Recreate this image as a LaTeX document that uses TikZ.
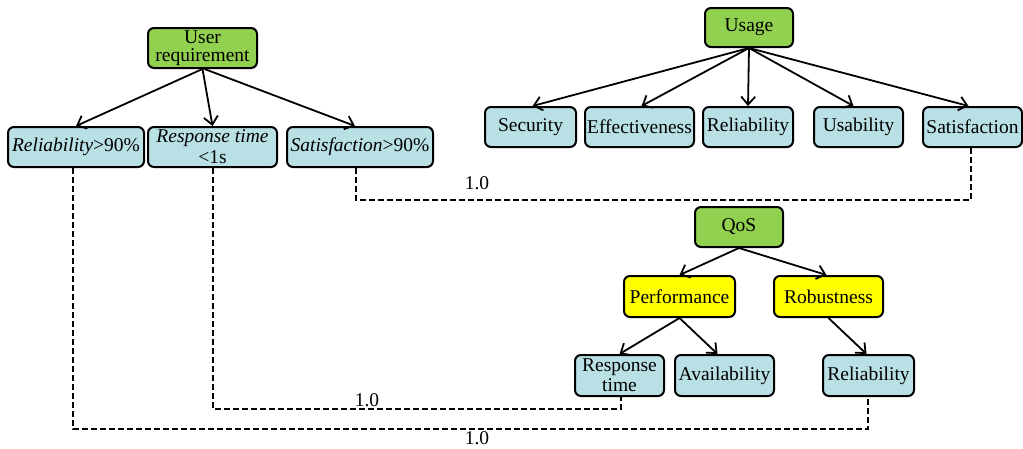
\documentclass[tikz,border=0pt]{standalone}
\usepackage{fontspec}
\setmainfont{Liberation Serif}
\usetikzlibrary{arrows.meta,calc}
\definecolor{boxgreen}{RGB}{146,208,80}
\definecolor{boxblue}{RGB}{185,224,229}
\definecolor{boxyellow}{RGB}{255,255,0}
\begin{document}
\begin{tikzpicture}[x=1pt,y=-1pt,
  box/.style={draw=black, line width=2pt, rounded corners=6pt, inner sep=0pt,
    minimum height=40pt, align=center, font=\fontsize{19.5}{18}\selectfont},
  gbox/.style={box, fill=boxgreen},
  bbox/.style={box, fill=boxblue},
  ybox/.style={box, fill=boxyellow},
  arr/.style={-{Straight Barb[length=8pt,width=14pt,line width=1.8pt]}, line width=1.8pt},
  dsh/.style={dash pattern=on 6pt off 3pt, line width=2pt},
  lbl/.style={font=\fontsize{19.5}{19}\selectfont, inner sep=0pt}]
\useasboundingbox (0,0) rectangle (1023,448);

% left tree
\node[gbox, minimum width=109pt] (ur) at (202.5,48) {User\\requirement};
\node[bbox, minimum width=136pt] (r1) at (76,147) {\textit{Reliability}>90\%};
\node[bbox, minimum width=129pt, font=\fontsize{19.5}{21}\selectfont] (r2) at (212.5,147) {\textit{Response time}\\<1s};
\node[bbox, minimum width=146pt] (r3) at (360,147) {\textit{Satisfaction}>90\%};

\draw[arr] (ur.south) -- (r1.north);
\draw[arr] (ur.south) -- (r2.north);
\draw[arr] ([xshift=2pt]ur.south) -- ([xshift=-5pt]r3.north);

% usage tree
\node[gbox, minimum width=88pt, minimum height=39pt] (us) at (749,27.5) {Usage};
\node[bbox, minimum width=91pt] (s1) at (530.5,127) {Security};
\node[bbox, minimum width=109pt] (s2) at (639.5,127) {Effectiveness};
\node[bbox, minimum width=90pt] (s3) at (748,127) {Reliability};
\node[bbox, minimum width=89pt] (s4) at (858.5,127) {Usability};
\node[bbox, minimum width=99pt] (s5) at (972.5,127) {Satisfaction};

\draw[arr] (us.south) -- ([xshift=2pt]s1.north);
\draw[arr] (us.south) -- ([xshift=2pt]s2.north);
\draw[arr] (us.south) -- (s3.north);
\draw[arr] (us.south) -- ([xshift=-5pt]s4.north);
\draw[arr] (us.south) -- ([xshift=-4pt]s5.north);

% QoS tree
\node[gbox, minimum width=88pt] (q) at (739,227) {QoS};
\node[ybox, minimum width=111pt, minimum height=41pt] (p) at (679.5,296.5) {Performance};
\node[ybox, minimum width=109pt, minimum height=41pt] (rb) at (828.5,296.5) {Robustness};
\node[bbox, minimum width=89pt, minimum height=41pt, font=\fontsize{19.5}{20}\selectfont] (rt) at (619.5,375.5) {Response\\time};
\node[bbox, minimum width=99pt, minimum height=41pt] (av) at (724.5,375.5) {Availability};
\node[bbox, minimum width=91pt, minimum height=41pt] (rl) at (868.5,375.5) {Reliability};

\draw[arr] (q.south) -- (p.north);
\draw[arr] (q.south) -- ([xshift=-2pt]rb.north);
\draw[arr] (p.south) -- (rt.north);
\draw[arr] (p.south) -- ([xshift=-7pt]av.north);
\draw[arr] (rb.south) -- ([xshift=-2pt]rl.north);

% dashed mappings
\draw[dsh] ([xshift=-4pt]r3.south) |- ($(s5.south)+(-1.5,52)$) -- ([xshift=-1.5pt]s5.south);
\draw[dsh] ([xshift=0.5pt]r2.south) |- ($(rt.south)+(1.5,12)$) -- ([xshift=1.5pt]rt.south);
\draw[dsh] ([xshift=-3pt]r1.south) |- ($(rl.south)+(-0.5,32)$) -- ([xshift=-0.5pt]rl.south);

\node[lbl] (l1) at (477,183) {1.0};
\node[lbl] (l2) at (367,400) {1.0};
\node[lbl, anchor=base] (l3) at (477,444) {1.0};
\end{tikzpicture}
\end{document}
